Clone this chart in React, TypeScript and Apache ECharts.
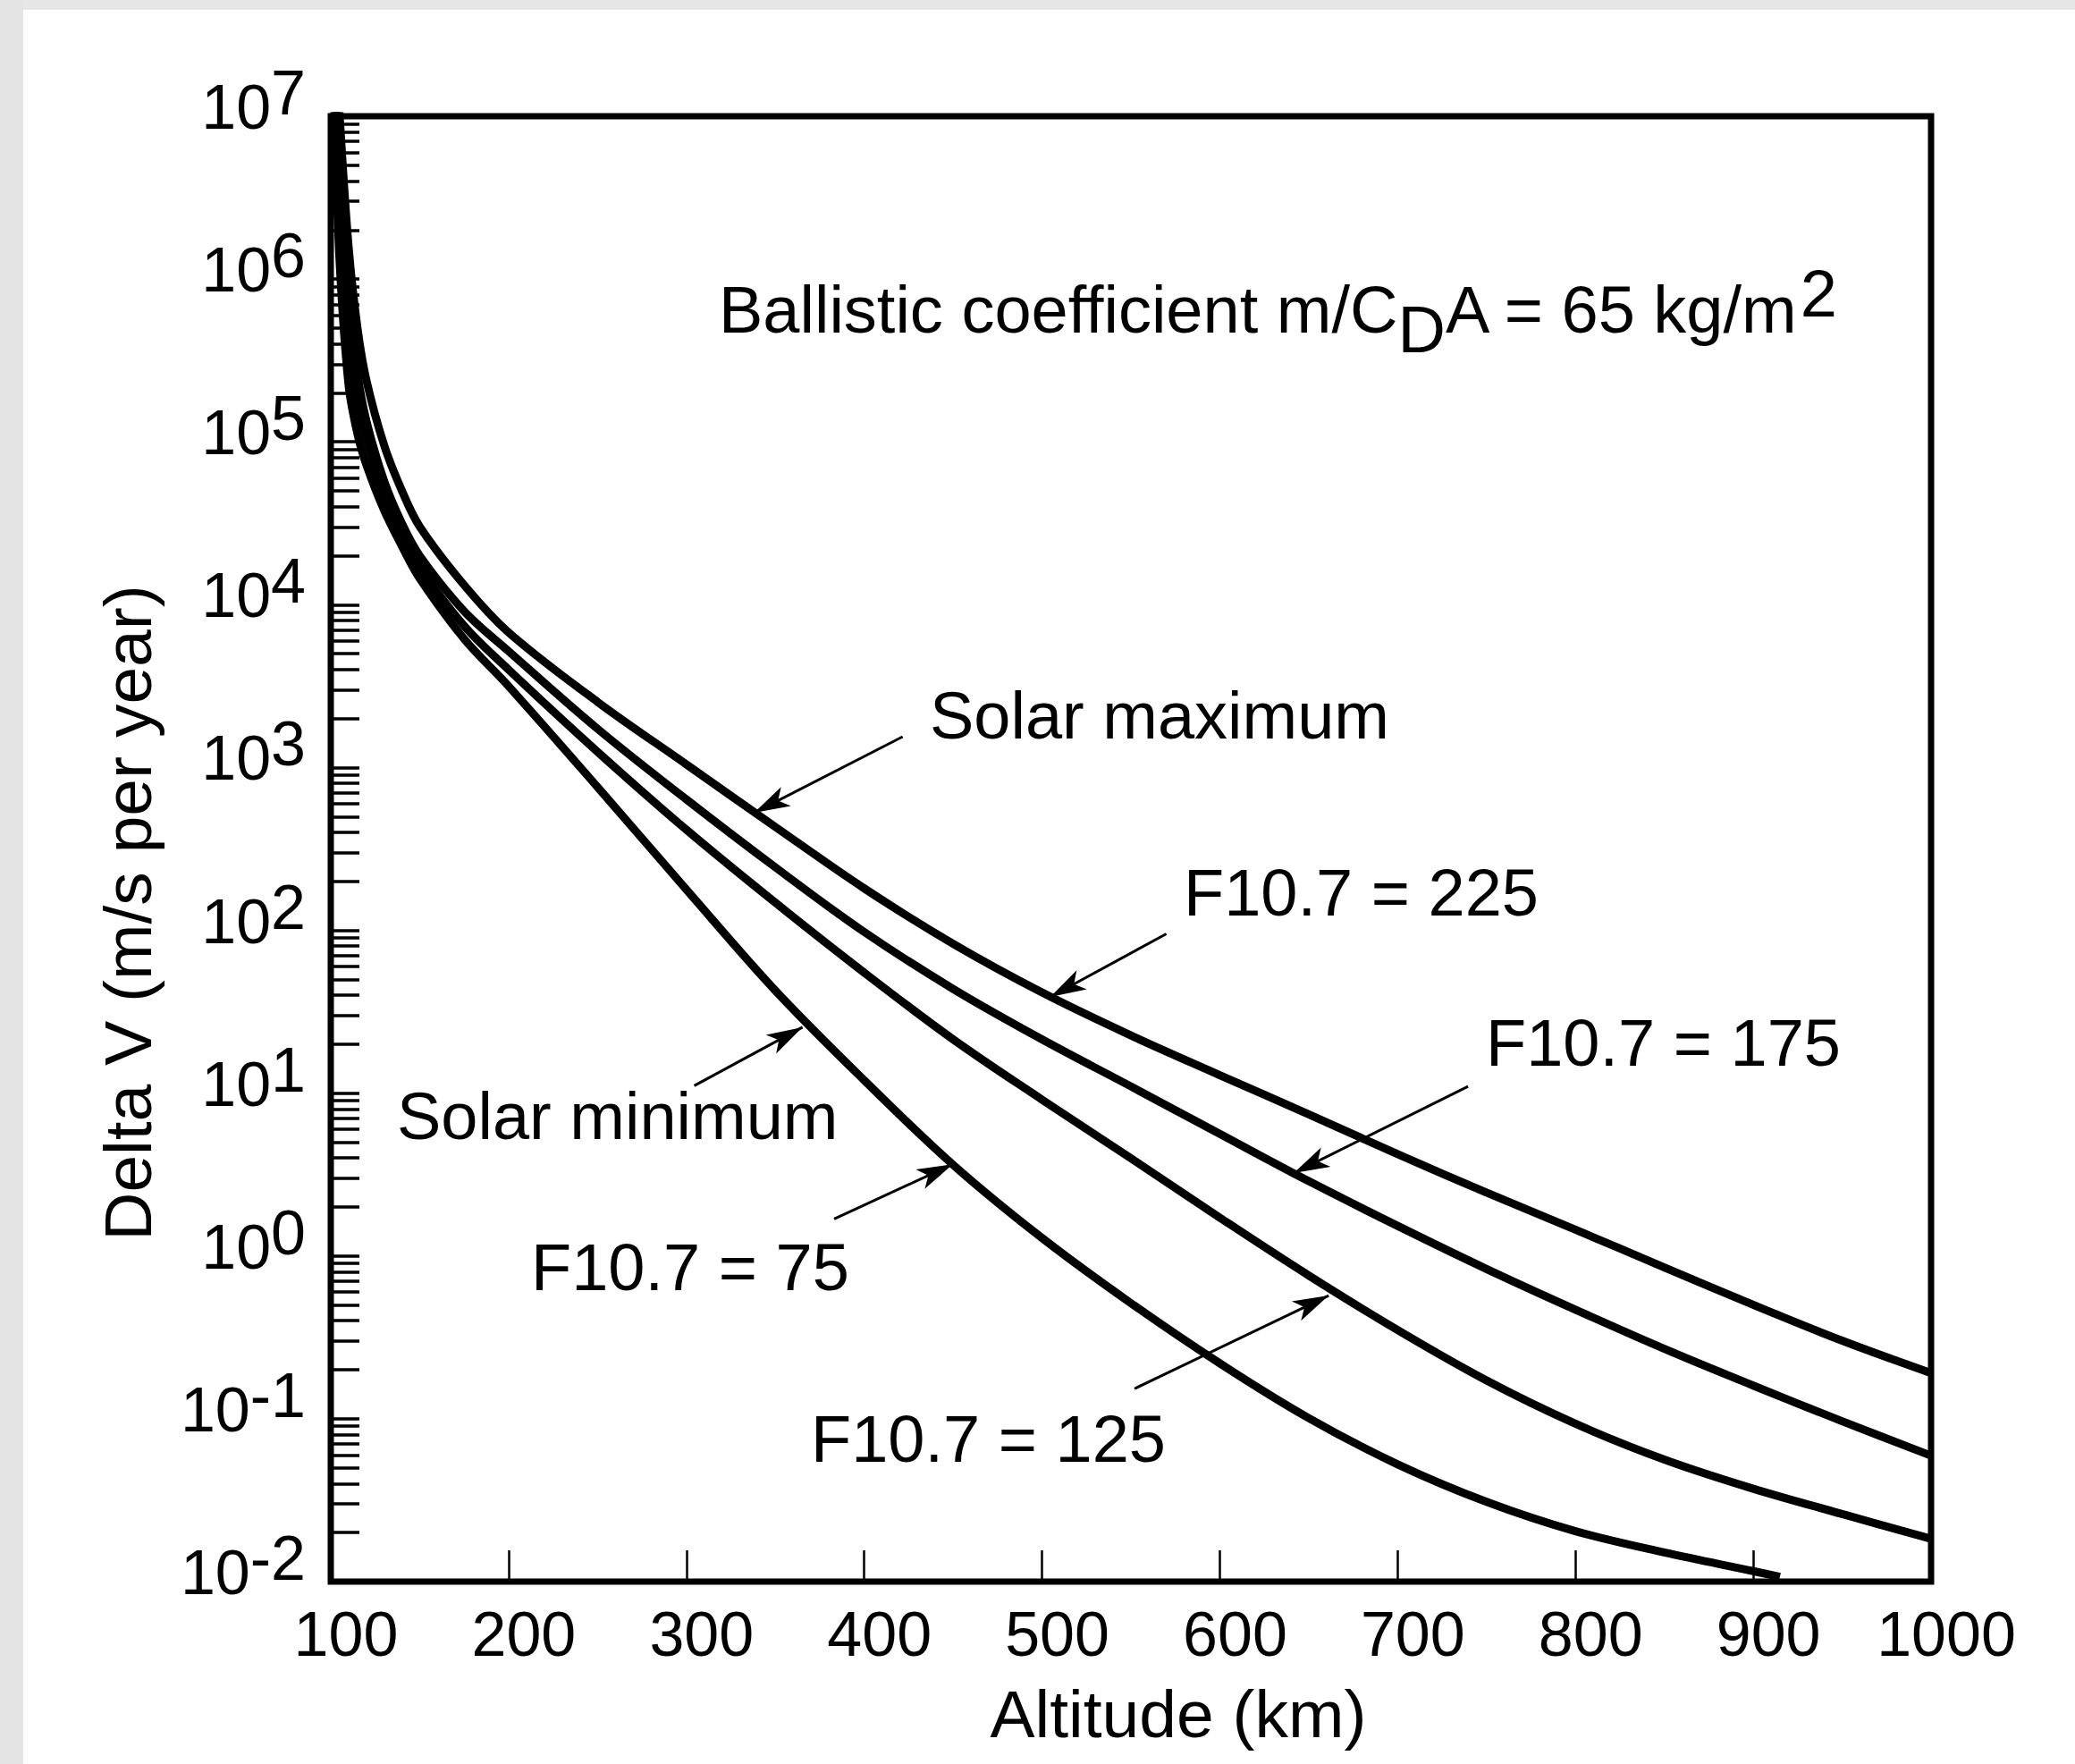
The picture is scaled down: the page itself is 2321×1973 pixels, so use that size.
import React, { useEffect, useRef } from "react";
import * as echarts from "echarts";

// Altitude samples (km) shared by three curves
const altitudes = [100, 102, 105, 110, 115, 120, 130, 140, 150, 175, 200, 250, 300, 350, 400, 450, 500, 550, 600, 650, 700, 750, 800, 850, 900, 950, 1000];
// Delta V (m/s per year)
const dvF225 = [1.0e8, 3.98e7, 1.0e7, 1.58e6, 5.01e5, 2.4e5, 9.55e4, 5.01e4, 3.02e4, 1.32e4, 6760, 2530, 1045, 432, 181, 82.6, 41.5, 22.6, 12.9, 7.41, 4.22, 2.45, 1.45, 0.851, 0.501, 0.302, 0.191];
const dvF175 = [7.94e7, 2.51e7, 5.01e6, 7.94e5, 2.63e5, 1.35e5, 5.75e4, 3.16e4, 2.0e4, 9120, 5180, 1730, 637, 244, 97.7, 43.7, 21.4, 11.0, 5.62, 2.88, 1.53, 0.832, 0.468, 0.269, 0.16, 0.0966, 0.0594];
const dvF125 = [6.31e7, 1.78e7, 3.16e6, 5.01e5, 1.86e5, 1.05e5, 4.79e4, 2.69e4, 1.7e4, 7410, 3990, 1250, 415, 148, 55.0, 21.4, 9.12, 3.98, 1.72, 0.759, 0.351, 0.172, 0.0933, 0.0562, 0.0372, 0.026, 0.0183];
// The F10.7 = 75 curve leaves the chart at about 915 km
const altitudesF75 = [100, 102, 105, 110, 115, 120, 130, 140, 150, 175, 200, 250, 300, 350, 400, 450, 500, 550, 600, 650, 700, 750, 800, 850, 900, 915];
const dvF75 = [5.01e7, 1.0e7, 1.26e6, 2.24e5, 1.12e5, 7.24e4, 3.8e4, 2.29e4, 1.45e4, 6170, 3160, 759, 178, 42.7, 12.0, 3.63, 1.29, 0.513, 0.219, 0.101, 0.0525, 0.0309, 0.0204, 0.0151, 0.0116, 0.0107];

// Axis settings
const xTicks = [100, 200, 300, 400, 500, 600, 700, 800, 900, 1000];
const yMin = 0.01;
const yMax = 1e7;

// Annotation arrows in data coordinates: [altitude, deltaV] tail -> head
const arrowTails = [[421.6, 1545], [569.9, 95.1], [739.6, 11.0], [304.4, 11.1], [383.1, 1.69], [552.0, 0.153]];
const arrowHeads = [[338.1, 527], [504.7, 39.0], [641.6, 3.23], [365.3, 25.4], [449.8, 3.66], [661.2, 0.571]];
const annotationTexts = ["Solar maximum", "F10.7 = 225", "F10.7 = 175", "Solar minimum", "F10.7 = 75", "F10.7 = 125"];
const annotationPos = [[1040, 800], [1324, 998], [1662, 1166], [444, 1248], [594, 1417], [907, 1609]];

export default function App() {
  const ref = useRef<HTMLDivElement>(null);

  useEffect(() => {
    if (!ref.current) return;
    const chart = echarts.init(ref.current, undefined, { renderer: "svg" });
    const font = "'Liberation Sans', Arial, Helvetica, sans-serif";
    const curveStyle = { color: "#000", width: 9 };

    const mk = (name: string, xs: number[], ys: number[], extra: any = {}) => ({
      name,
      type: "line",
      data: xs.map((x, i) => [x, ys[i]]),
      symbol: "none",
      showSymbol: false,
      smooth: 0.35,
      lineStyle: curveStyle,
      silent: true,
      clip: true,
      z: 3,
      ...extra,
    });

    const arrowData = arrowTails.map((t, i) => [{ coord: t }, { coord: arrowHeads[i] }]);

    const option: any = {
      animation: false,
      backgroundColor: "#ffffff",
      textStyle: { fontFamily: font, color: "#000" },
      grid: {
        left: 370,
        top: 130,
        right: 161,
        bottom: 204,
        containLabel: false,
        outerBoundsMode: "none",
        show: true,
        borderColor: "#000",
        borderWidth: 7,
        backgroundColor: "transparent",
      },
      xAxis: {
        type: "value",
        min: 100,
        max: 1000,
        interval: 100,
        name: "Altitude (km)",
        nameLocation: "middle",
        nameGap: 110,
        nameMoveOverlap: false,
        nameTextStyle: { fontSize: 75, color: "#000", fontFamily: font, padding: [0, 0, 0, 106] },
        axisLine: { show: false },
        axisTick: { show: true, inside: true, length: 35, lineStyle: { color: "#000", width: 2.5 } },
        splitLine: { show: false },
        axisLabel: {
          show: true,
          fontSize: 70,
          color: "#000",
          fontFamily: font,
          margin: 24,
          padding: [0, 0, 0, 34],
          showMinLabel: true,
          showMaxLabel: true,
          formatter: (v: number) => (xTicks.includes(v) ? String(v) : ""),
        },
      },
      yAxis: {
        type: "log",
        logBase: 10,
        min: yMin,
        max: yMax,
        splitNumber: 9,
        name: "Delta V (m/s per year)",
        nameLocation: "middle",
        nameGap: 190,
        nameRotate: 90,
        nameMoveOverlap: false,
        nameTextStyle: { fontSize: 75, color: "#000", fontFamily: font, padding: [0, 143, 0, 0] },
        axisLine: { show: false },
        axisTick: { show: true, inside: true, length: 32, lineStyle: { color: "#000", width: 3.5 } },
        minorTick: { show: true, splitNumber: 9, length: 32, lineStyle: { color: "#000", width: 3.5 } },
        splitLine: { show: false },
        minorSplitLine: { show: false },
        axisLabel: {
          show: true,
          margin: 28,
          showMinLabel: true,
          showMaxLabel: true,
          formatter: (v: number) => {
            const e = Math.round(Math.log10(v));
            return `{b|10}{s|${e}}`;
          },
          rich: {
            b: { fontSize: 70, fontFamily: font, color: "#000", lineHeight: 72, padding: [16, 0, 36, 0] },
            s: { fontSize: 70, fontFamily: font, color: "#000", lineHeight: 72, padding: [0, 0, 52, 0] },
          },
        },
      },
      series: [
        mk("F10.7 = 225 (Solar maximum)", altitudes, dvF225, {
          markLine: {
            silent: true,
            animation: false,
            symbol: ["none", "arrow"],
            symbolSize: [18, 40],
            label: { show: false },
            lineStyle: { color: "#000", width: 3, type: "solid" },
            emphasis: { disabled: true },
            data: arrowData,
          },
        }),
        mk("F10.7 = 175", altitudes, dvF175),
        mk("F10.7 = 125", altitudes, dvF125),
        mk("F10.7 = 75 (Solar minimum)", altitudesF75, dvF75),
      ],
      graphic: [
        { type: "rect", silent: true, z: -10, shape: { x: 0, y: 0, width: 2321, height: 11 }, style: { fill: "#e6e6e6" } },
        { type: "rect", silent: true, z: -10, shape: { x: 0, y: 0, width: 26, height: 1973 }, style: { fill: "#e4e4e4" } },
        {
          type: "text",
          silent: true,
          x: 804,
          y: 348,
          style: {
            text: "{b|Ballistic coefficient m/C}{sub|D}{b|A = 65 kg/m}{sup|2}",
            align: "left",
            verticalAlign: "middle",
            textAlign: "left",
            textVerticalAlign: "middle",
            fill: "#000",
            font: `74px ${font}`,
            rich: {
              b: { fontSize: 74, fontFamily: font, fill: "#000", lineHeight: 80, padding: [18, 0, 22, 0] },
              sub: { fontSize: 74, fontFamily: font, fill: "#000", lineHeight: 80, padding: [40, 0, 0, 0] },
              sup: { fontSize: 74, fontFamily: font, fill: "#000", lineHeight: 80, padding: [0, 0, 40, 0] },
            },
          },
        },
        ...annotationTexts.map((t, i) => ({
          type: "text",
          silent: true,
          x: annotationPos[i][0],
          y: annotationPos[i][1],
          style: {
            text: t,
            align: "left",
            verticalAlign: "middle",
            textAlign: "left",
            textVerticalAlign: "middle",
            fill: "#000",
            font: `74px ${font}`,
          },
        })),
      ],
    };

    chart.setOption(option);
    return () => chart.dispose();
  }, []);

  return <div ref={ref} style={{ position: "fixed", left: 0, top: 0, width: 2321, height: 1973 }} />;
}
